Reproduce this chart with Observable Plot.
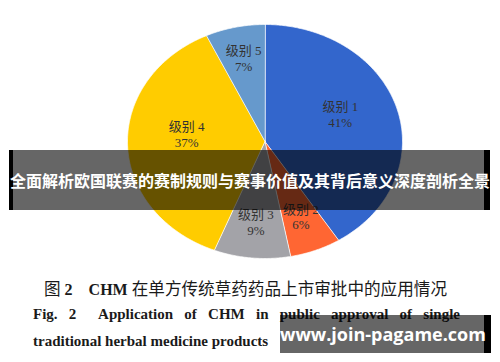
<!DOCTYPE html>
<html>
<head>
<meta charset="utf-8">
<script src="https://cdn.jsdelivr.net/npm/d3@7"></script>
<script src="https://cdn.jsdelivr.net/npm/@observablehq/plot@0.6"></script>
<style>
  html, body { margin: 0; padding: 0; background: #fff; }
  #wrap { position: relative; width: 500px; height: 362px; overflow: hidden; }
  #chart { position: absolute; left: 0; top: 0; }
  .cap { position: absolute; font-family: "Liberation Serif", "Noto Sans CJK SC", serif; color: #1a1a1a; white-space: nowrap; }
  #cap1 { left: 44px; top: 276px; font-size: 16px; }
  #cap1 b { font-weight: bold; }
  #cap1 .zh { font-family: "Noto Sans CJK SC", sans-serif; font-weight: 400; font-size: 16.6px; }
  #cap2 { left: 33px; top: 306px; width: 427px; font-size: 15px; font-weight: bold; text-align: justify; text-align-last: justify; white-space: normal; }
  #cap3 { left: 33px; top: 333px; font-size: 15px; font-weight: bold; }
  #banner { position: absolute; left: 9px; top: 150px; width: 481px; height: 60px; box-sizing: border-box;
            border-left: 4px solid #000; border-right: 6px solid #000; background: rgba(0,0,0,0.6); }
  #bannerText { position: absolute; left: 0; top: 150px; width: 500px; height: 60px; line-height: 60px; text-align: center;
                color: #fff; font-family: "Noto Sans CJK SC", sans-serif; font-weight: bold; font-size: 16px; white-space: nowrap; }
  #wm { position: absolute; left: 280px; top: 315px; width: 211px; height: 38px; box-sizing: border-box;
        border-right: 7px solid #000; background: rgba(0,0,0,0.6); color: #fff;
        font-family: "Open Sans", sans-serif; font-weight: bold; font-size: 18px; line-height: 38px; text-align: center; white-space: nowrap; }
</style>
</head>
<body>
<div id="wrap">
  <div id="chart"></div>
  <div class="cap" id="cap1"><span class="zh">图</span> <b>2</b>&nbsp;&nbsp;&nbsp;&nbsp;<b>CHM</b> <span class="zh">在单方传统草药药品上市审批中的应用情况</span></div>
  <div class="cap" id="cap2">Fig. 2&nbsp; Application of CHM in public approval of single</div>
  <div class="cap" id="cap3">traditional herbal medicine products</div>
  <div id="banner"></div>
  <div id="bannerText">全面解析欧国联赛的赛制规则与赛事价值及其背后意义深度剖析全景</div>
  <div id="wm">www.join-pagame.com</div>
</div>
<script>
const categories = ["级别 1", "级别 2", "级别 3", "级别 4", "级别 5"];
const shares = [41, 6, 9, 37, 7];
const pctLabels = ["41%", "6%", "9%", "37%", "7%"];
const colors = ["#3366cc", "#ff6633", "#a3a3a8", "#ffcc00", "#6699cc"];

// Slice geometry from the shares (clockwise from 12 o'clock)
const arcs = d3.pie().sort(null).value(d => d)(shares);
const poly = [];
arcs.forEach((a, i) => {
  const cat = categories[i];
  poly.push({cat, x: 0, y: 0});
  const n = Math.max(2, Math.ceil((a.endAngle - a.startAngle) / 0.01));
  for (let k = 0; k <= n; k++) {
    const t = a.startAngle + (a.endAngle - a.startAngle) * k / n;
    poly.push({cat, x: Math.sin(t), y: Math.cos(t)});
  }
});
const labels = arcs.map((a, i) => {
  const m = (a.startAngle + a.endAngle) / 2;
  const big = shares[i] > 20;
  const r = big ? 0.57 : 0.71;
  return {x: Math.sin(m) * r, y: Math.cos(m) * r + (big ? 0.08 : 0.02), text: categories[i] + "\n" + pctLabels[i]};
});

const chart = Plot.plot({
  width: 500,
  height: 270,
  margin: 0,
  x: {domain: [-1, 1], range: [127, 402], axis: null},
  y: {domain: [-1, 1], range: [258, 24], axis: null},
  color: {domain: categories, range: colors},
  marks: [
    Plot.line(poly, {x: "x", y: "y", z: "cat", fill: "cat", stroke: "white", strokeWidth: 0.7, curve: "linear-closed"}),
    Plot.text(labels, {x: "x", y: "y", text: "text", fill: "#333", fontSize: 13, lineHeight: 1.22,
      fontFamily: "'Liberation Serif', 'Noto Sans CJK SC', serif"})
  ]
});
document.getElementById("chart").appendChild(chart);
</script>
</body>
</html>
